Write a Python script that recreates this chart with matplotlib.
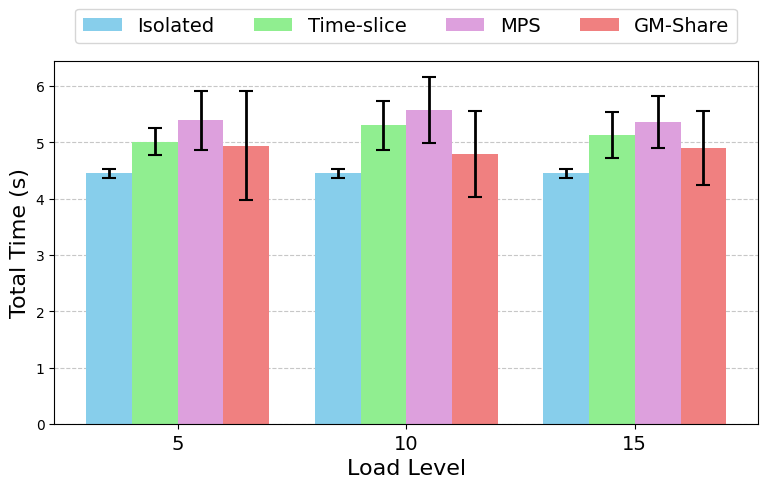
import numpy as np
import matplotlib.pyplot as plt

load_levels = ["5", "10", "15"]
methods = ["Isolated", "Time-slice", "MPS", "GM-Share"]
colors = ["skyblue", "lightgreen", "plum", "lightcoral"]

isolated_mean = [4.45, 4.45, 4.45]
isolated_err = [0.08, 0.08, 0.08]
timeslice_mean = [5.01, 5.30, 5.13]
timeslice_err = [0.24, 0.43, 0.40]
mps_mean = [5.39, 5.57, 5.36]
mps_err = [0.52, 0.59, 0.46]
gmshare_mean = [4.94, 4.79, 4.90]
gmshare_err = [0.97, 0.77, 0.65]

means = [isolated_mean, timeslice_mean, mps_mean, gmshare_mean]
errs = [isolated_err, timeslice_err, mps_err, gmshare_err]

fig, ax = plt.subplots(figsize=(7.69, 4.89), dpi=100)

x = np.arange(len(load_levels))
width = 0.2

for i, name in enumerate(methods):
    ax.bar(
        x + (i - 1.5) * width,
        means[i],
        width,
        yerr=errs[i],
        capsize=5,
        color=colors[i],
        label=name,
        error_kw=dict(elinewidth=2, capthick=1.5)
    )

ax.set_xticks(x)
ax.set_xticklabels(load_levels, fontsize=14)
ax.set_xlabel("Load Level", fontsize=16)
ax.set_ylabel("Total Time (s)", fontsize=16)
ax.set_ylim(0, 6.45)
ax.grid(axis="y", linestyle="--", alpha=0.7)
ax.set_axisbelow(True)

ax.legend(
    loc="upper center",
    bbox_to_anchor=(0.5, 1.17),
    ncol=4,
    fontsize=14
)

plt.subplots_adjust(left=0.0705, right=0.986, top=0.874, bottom=0.131)
plt.savefig("out.png")
